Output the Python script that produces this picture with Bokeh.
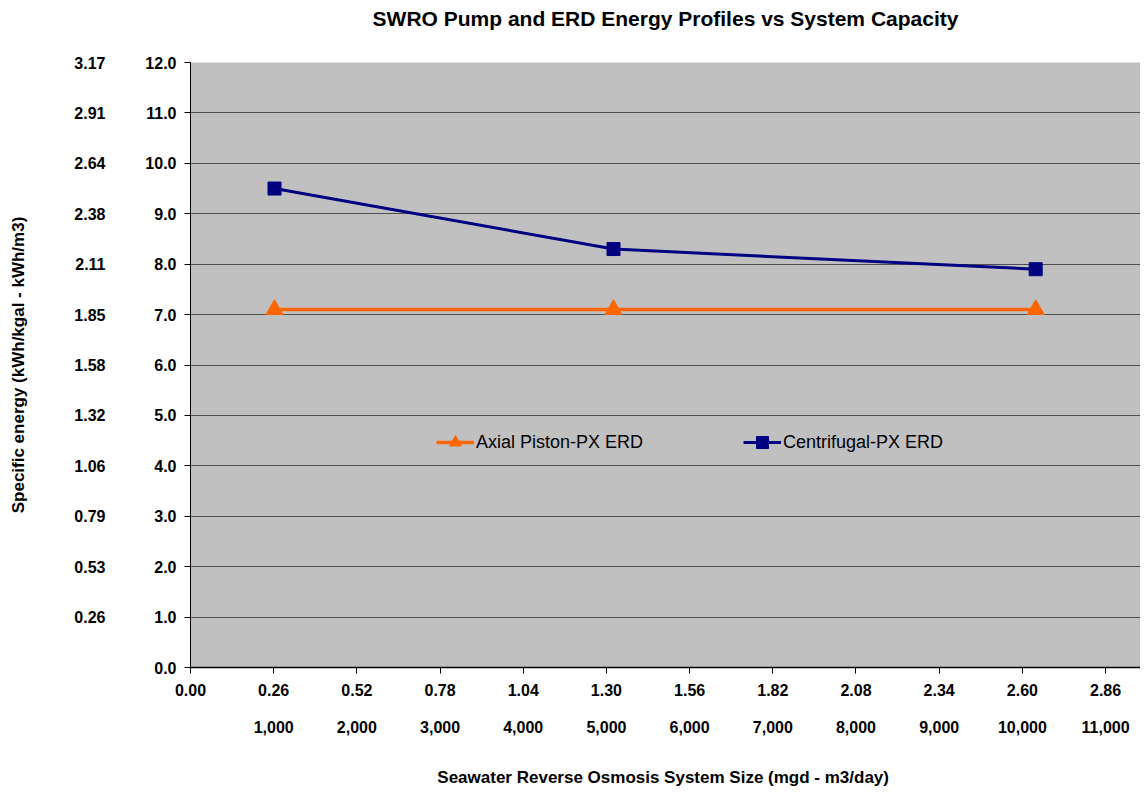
from bokeh.plotting import figure
from bokeh.models import (LinearAxis, FixedTicker, Range1d, Legend, LegendItem, Grid)
from bokeh.embed import file_html
from bokeh.resources import INLINE

# ---- data ----
system_size_m3day = [1010, 5085, 10160]
axial_piston_px = [7.1, 7.1, 7.1]
centrifugal_px = [9.5, 8.3, 7.9]

x_ticks = [0, 1000, 2000, 3000, 4000, 5000, 6000, 7000, 8000, 9000, 10000, 11000]
x_labels_mgd = ["0.00", "0.26", "0.52", "0.78", "1.04", "1.30", "1.56", "1.82",
                "2.08", "2.34", "2.60", "2.86"]
x_labels_m3 = ["", "1,000", "2,000", "3,000", "4,000", "5,000", "6,000", "7,000",
               "8,000", "9,000", "10,000", "11,000"]
y_ticks = [0, 1, 2, 3, 4, 5, 6, 7, 8, 9, 10, 11, 12]
y_labels_m3 = ["0.0", "1.0", "2.0", "3.0", "4.0", "5.0", "6.0", "7.0", "8.0",
               "9.0", "10.0", "11.0", "12.0"]
y_labels_kgal = ["", "0.26", "0.53", "0.79", "1.06", "1.32", "1.58", "1.85", "2.11",
                 "2.38", "2.64", "2.91", "3.17"]
title_text = "SWRO Pump and ERD Energy Profiles vs System Capacity"

FONT = "Liberation Sans"

p = figure(frame_width=950, frame_height=605, output_backend="svg",
           toolbar_location=None, x_axis_location=None, y_axis_location=None,
           x_range=Range1d(0, 11420), y_range=Range1d(0, 12),
           min_border_left=190, min_border_right=0, min_border_top=62,
           min_border_bottom=120, background_fill_color="#C0C0C0",
           border_fill_color="white", outline_line_color=None)
p.xgrid.visible = False
p.ygrid.visible = False

def style_axis(ax, size="16px"):
    ax.major_label_text_font = FONT
    ax.major_label_text_font_size = size
    ax.major_label_text_font_style = "bold"
    ax.major_label_text_color = "black"
    ax.minor_tick_line_color = None
    ax.axis_label_text_font = FONT
    ax.axis_label_text_font_style = "bold"
    ax.axis_label_text_font_size = "17px"
    ax.axis_label_text_color = "black"

# title, drawn as the label of a bare axis above the frame
top = LinearAxis(ticker=FixedTicker(ticks=[]), axis_label=title_text)
style_axis(top)
top.axis_line_color = None
top.major_tick_line_color = None
top.major_tick_in = 0
top.major_tick_out = 0
top.axis_label_text_font_size = "21px"
top.axis_label_standoff = 33
p.add_layout(top, "above")

# inner left axis (kWh/m3)
yin = LinearAxis(ticker=FixedTicker(ticks=y_ticks),
                 major_label_overrides={t: l for t, l in zip(y_ticks, y_labels_m3)})
style_axis(yin)
yin.axis_line_color = "black"
yin.major_tick_line_color = "black"
yin.major_tick_in = 0
yin.major_tick_out = 6
yin.major_label_standoff = 8
p.add_layout(yin, "left")

# outer left axis (kWh/kgal)
yout = LinearAxis(ticker=FixedTicker(ticks=y_ticks),
                  major_label_overrides={t: l for t, l in zip(y_ticks, y_labels_kgal)},
                  axis_label="Specific energy (kWh/kgal - kWh/m3)")
style_axis(yout)
yout.axis_line_color = None
yout.major_tick_line_color = None
yout.major_tick_in = 0
yout.major_tick_out = 0
yout.major_label_standoff = 37
yout.axis_label_standoff = 43
p.add_layout(yout, "left")

# bottom axis (mgd)
xin = LinearAxis(ticker=FixedTicker(ticks=x_ticks),
                 major_label_overrides={t: l for t, l in zip(x_ticks, x_labels_mgd)})
style_axis(xin)
xin.axis_line_color = "black"
xin.axis_line_width = 1.5
xin.major_tick_line_color = "black"
xin.major_tick_in = 0
xin.major_tick_out = 6
xin.major_label_standoff = 10
p.add_layout(xin, "below")

# second bottom row (m3/day)
xout = LinearAxis(ticker=FixedTicker(ticks=x_ticks),
                  major_label_overrides={t: l for t, l in zip(x_ticks, x_labels_m3)},
                  axis_label="Seawater Reverse Osmosis System Size (mgd  - m3/day)")
style_axis(xout)
xout.axis_line_color = None
xout.major_tick_line_color = None
xout.major_tick_in = 0
xout.major_tick_out = 0
xout.major_label_standoff = 22
xout.axis_label_standoff = 32
p.add_layout(xout, "below")

# horizontal grid
p.add_layout(Grid(dimension=1, ticker=FixedTicker(ticks=y_ticks),
                  grid_line_color="#505050", grid_line_width=1.2))

ORANGE = "#FF6600"
NAVY = "#000080"

l1 = p.line(system_size_m3day, axial_piston_px, line_color=ORANGE, line_width=3.5)
s1 = p.scatter(system_size_m3day, axial_piston_px, marker="triangle", size=17,
               fill_color=ORANGE, line_color=ORANGE)
l2 = p.line(system_size_m3day, centrifugal_px, line_color=NAVY, line_width=3)
s2 = p.scatter(system_size_m3day, centrifugal_px, marker="square", size=13,
               fill_color=NAVY, line_color=NAVY)

legend = Legend(items=[LegendItem(label="Axial Piston-PX ERD", renderers=[l1, s1]),
                       LegendItem(label="Centrifugal-PX ERD", renderers=[l2, s2])],
                orientation="horizontal", location=(246, 210),
                background_fill_alpha=0, border_line_color=None,
                label_text_font=FONT, label_text_font_size="18px",
                label_text_color="black", glyph_width=38, glyph_height=30,
                label_standoff=2, spacing=100, padding=0, margin=0)
p.add_layout(legend, "center")

open("out.html", "w").write(file_html(p, INLINE))
